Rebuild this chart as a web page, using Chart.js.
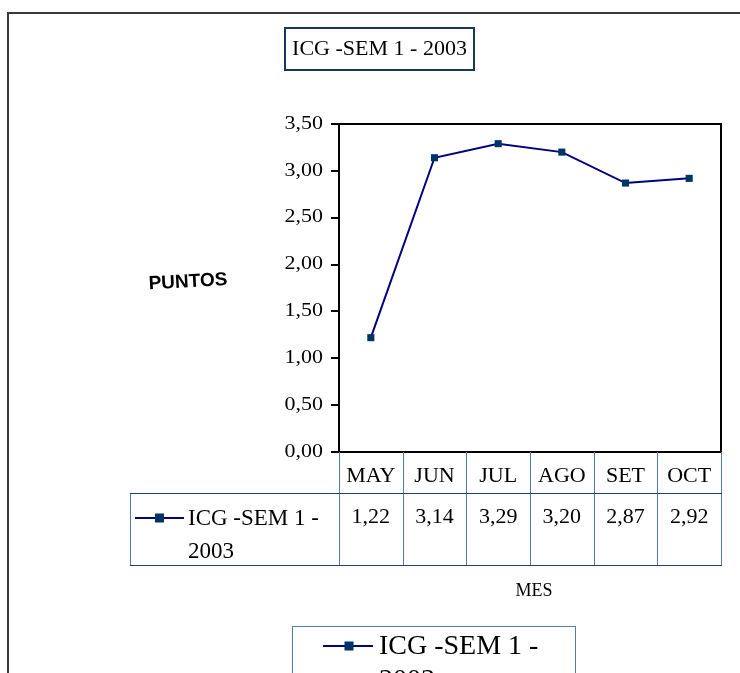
<!DOCTYPE html>
<html><head><meta charset="utf-8">
<script src="https://cdn.jsdelivr.net/npm/chart.js@4/dist/chart.umd.min.js"></script>
<style>html,body{margin:0;padding:0;background:#fff;overflow:hidden}canvas{display:block}</style>
</head><body>
<canvas id="c" width="740" height="673"></canvas>
<script>
const categories = ['MAY','JUN','JUL','AGO','SET','OCT'];
const values = [1.22, 3.14, 3.29, 3.20, 2.87, 2.92];
const seriesName = 'ICG -SEM 1 - 2003';
const seriesLines = ['ICG -SEM 1 -', '2003'];
const yTicks = [0, 0.5, 1, 1.5, 2, 2.5, 3, 3.5];
const yAxisTitle = 'PUNTOS';
const xAxisTitle = 'MES';

const SERIF = '"Liberation Serif", "Times New Roman", serif';
const SANS = '"Liberation Sans", Arial, sans-serif';
const fmt = v => v.toFixed(2).replace('.', ',');

function drawMarker(ctx, x, y, s) {
  ctx.save();
  ctx.fillStyle = '#003366';
  ctx.fillRect(x - s/2, y - s/2, s, s);
  ctx.restore();
}

const deco = {
  id: 'deco',
  afterDraw(chart) {
    const ctx = chart.ctx, ca = chart.chartArea, xs = chart.scales.x, ys = chart.scales.y;
    ctx.save();
    // outer frame
    ctx.strokeStyle = '#3a3a3a'; ctx.lineWidth = 2;
    ctx.strokeRect(8, 13, 760, 700);
    // title box
    ctx.strokeStyle = '#17375e'; ctx.lineWidth = 2;
    ctx.strokeRect(285, 28, 189, 42);
    ctx.fillStyle = '#000'; ctx.font = '22px ' + SERIF;
    ctx.textAlign = 'center'; ctx.textBaseline = 'alphabetic';
    ctx.fillText(seriesName, 379.5, 55);
    // plot border
    ctx.strokeStyle = '#000'; ctx.lineWidth = 2;
    ctx.strokeRect(ca.left, ca.top, ca.right - ca.left, ca.bottom - ca.top);
    // y tick labels (slightly wide serif)
    ctx.fillStyle = '#000'; ctx.font = '18px ' + SERIF;
    ctx.textAlign = 'right'; ctx.textBaseline = 'middle';
    yTicks.forEach(v => {
      const y = ys.getPixelForValue(v);
      ctx.save(); ctx.translate(323, y); ctx.scale(1.22, 1);
      ctx.fillText(fmt(v), 0, 0);
      ctx.restore();
    });
    // PUNTOS
    ctx.save();
    ctx.translate(188, 282); ctx.rotate(-3 * Math.PI / 180);
    ctx.font = 'bold 19px ' + SANS; ctx.fillStyle = '#000';
    ctx.textAlign = 'center'; ctx.textBaseline = 'middle';
    ctx.fillText(yAxisTitle, 0, 0);
    ctx.restore();
    // data table
    const n = categories.length;
    const bounds = [ca.left];
    for (let i = 1; i < n; i++) bounds.push((xs.getPixelForValue(i - 1) + xs.getPixelForValue(i)) / 2);
    bounds.push(ca.right);
    const rowTop = ca.bottom, rowMid = 493, rowBot = 565, leftX = 130;
    ctx.strokeStyle = '#5b7aa8'; ctx.lineWidth = 1;
    ctx.beginPath();
    bounds.forEach(b => { const x = Math.round(b) + 0.5; ctx.moveTo(x, rowTop); ctx.lineTo(x, rowBot); });
    ctx.moveTo(leftX + 0.5, rowMid); ctx.lineTo(leftX + 0.5, rowBot);
    ctx.stroke();
    ctx.strokeStyle = '#1f3f6e';
    ctx.beginPath();
    ctx.moveTo(leftX, rowMid + 0.5); ctx.lineTo(ca.right + 1, rowMid + 0.5);
    ctx.moveTo(leftX, rowBot + 0.5); ctx.lineTo(ca.right + 1, rowBot + 0.5);
    ctx.stroke();
    ctx.fillStyle = '#000'; ctx.font = '22px ' + SERIF;
    ctx.textAlign = 'center'; ctx.textBaseline = 'alphabetic';
    categories.forEach((c, i) => ctx.fillText(c, xs.getPixelForValue(i), 482));
    values.forEach((v, i) => ctx.fillText(fmt(v), xs.getPixelForValue(i), 523));
    ctx.textAlign = 'left'; ctx.font = '23px ' + SERIF;
    ctx.fillText(seriesLines[0], 188, 525);
    ctx.fillText(seriesLines[1], 188, 558);
    ctx.strokeStyle = '#000080'; ctx.lineWidth = 2;
    ctx.beginPath(); ctx.moveTo(135, 518); ctx.lineTo(184, 518); ctx.stroke();
    drawMarker(ctx, 159.5, 518, 9);
    // MES
    ctx.fillStyle = '#000';
    ctx.textAlign = 'center'; ctx.font = '18px ' + SERIF;
    ctx.fillText(xAxisTitle, 534, 596);
    // bottom legend
    ctx.strokeStyle = '#5b7aa8'; ctx.lineWidth = 1;
    ctx.strokeRect(292.5, 626.5, 283, 80);
    ctx.strokeStyle = '#000080'; ctx.lineWidth = 2;
    ctx.beginPath(); ctx.moveTo(323, 646); ctx.lineTo(373, 646); ctx.stroke();
    drawMarker(ctx, 349, 646, 9);
    ctx.fillStyle = '#000'; ctx.font = '28px ' + SERIF; ctx.textAlign = 'left';
    ctx.fillText(seriesLines[0], 379, 654);
    ctx.fillText(seriesLines[1], 379, 688);
    ctx.restore();
  }
};

new Chart(document.getElementById('c'), {
  type: 'line',
  data: {
    labels: categories,
    datasets: [{
      label: seriesName,
      data: values,
      borderColor: '#000080',
      borderWidth: 2,
      tension: 0,
      pointStyle: 'rect',
      pointRadius: 5,
      pointHoverRadius: 5,
      pointBackgroundColor: '#003366',
      pointBorderColor: '#003366',
      pointBorderWidth: 0
    }]
  },
  options: {
    responsive: false,
    animation: false,
    events: [],
    layout: { padding: { left: 0, right: 19, top: 124, bottom: 221 } },
    plugins: { legend: { display: false }, title: { display: false }, tooltip: { enabled: false } },
    scales: {
      x: { type: 'category', display: false, offset: true },
      y: {
        min: 0, max: 3.5,
        afterFit: s => { s.width = 339; },
        afterBuildTicks: s => { s.ticks = yTicks.map(v => ({ value: v })); },
        ticks: { display: false },
        border: { display: true, color: '#000', width: 2 },
        grid: { drawOnChartArea: false, drawTicks: true, tickLength: 8, color: '#000', lineWidth: 2 }
      }
    }
  },
  plugins: [deco]
});
</script>
</body></html>
